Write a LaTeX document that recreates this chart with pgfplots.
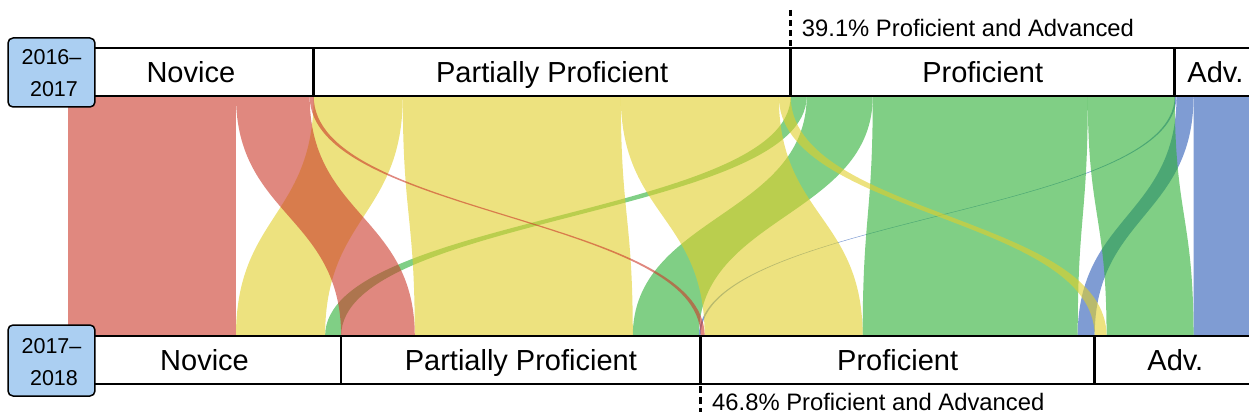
\documentclass[border=0pt]{standalone}
\usepackage{fontspec}
\setmainfont{Liberation Sans}
\usepackage{pgfplots}
\pgfplotsset{compat=1.18}
\definecolor{cnov}{RGB}{203,57,42}
\definecolor{cpp}{RGB}{225,207,42}
\definecolor{cprof}{RGB}{43,175,52}
\definecolor{cadv}{RGB}{42,90,182}
\definecolor{yearblue}{RGB}{171,207,242}
% flow: top-left, top-right, bottom-left, bottom-right (percent of students), colour
\newcommand{\flow}[5]{\fill[#5, fill opacity=0.6] (axis cs:#1,96) .. controls (axis cs:#1,216) and (axis cs:#3,216) .. (axis cs:#3,336) -- (axis cs:#4,336) .. controls (axis cs:#4,216) and (axis cs:#2,216) .. (axis cs:#2,96) -- cycle;}
\begin{document}
\begin{tikzpicture}
\begin{axis}[hide axis, scale only axis, width=1249bp, height=419bp,
  xmin=-5.724, xmax=99.41, ymin=0, ymax=419, y dir=reverse, clip=true]
% Advanced 2016-17 ->
\flow{93.16}{93.31}{53.10}{53.25}{cadv}
\flow{93.31}{94.74}{84.99}{86.42}{cadv}
\flow{94.74}{100}{94.74}{100}{cadv}
% Proficient 2016-17 ->
\flow{60.83}{62.18}{21.64}{22.99}{cprof}
\flow{62.18}{67.74}{47.54}{53.10}{cprof}
\flow{67.74}{85.84}{66.89}{84.99}{cprof}
\flow{85.84}{93.16}{87.42}{94.74}{cprof}
% Partially Proficient 2016-17 ->
\flow{20.68}{28.18}{14.14}{21.64}{cpp}
\flow{28.18}{46.53}{29.19}{47.54}{cpp}
\flow{46.53}{59.83}{53.59}{66.89}{cpp}
\flow{59.83}{60.83}{86.42}{87.42}{cpp}
% Novice 2016-17 ->
\flow{0}{14.14}{0}{14.14}{cnov}
\flow{14.14}{20.34}{22.99}{29.19}{cnov}
\flow{20.34}{20.68}{53.25}{53.59}{cnov}
% category boxes
\fill[white] (axis cs:0,48) rectangle (axis cs:100,96);
\fill[white] (axis cs:0,336) rectangle (axis cs:100,384);
\draw[line width=2.6bp] (axis cs:0,48) -- (axis cs:100,48);
\draw[line width=2.6bp] (axis cs:0,96) -- (axis cs:100,96);
\draw[line width=2.6bp] (axis cs:0,336) -- (axis cs:100,336);
\draw[line width=2.6bp] (axis cs:0,384) -- (axis cs:100,384);
\draw[line width=2.6bp] (axis cs:20.68,48) -- (axis cs:20.68,96);
\draw[line width=2.6bp] (axis cs:60.83,48) -- (axis cs:60.83,96);
\draw[line width=2.6bp] (axis cs:93.16,48) -- (axis cs:93.16,96);
\draw[line width=2.6bp] (axis cs:22.99,336) -- (axis cs:22.99,384);
\draw[line width=2.6bp] (axis cs:53.25,336) -- (axis cs:53.25,384);
\draw[line width=2.6bp] (axis cs:86.42,336) -- (axis cs:86.42,384);
% dashed markers
\draw[line width=2.6bp, dash pattern=on 6bp off 4bp] (axis cs:60.83,10) -- (axis cs:60.83,48);
\draw[line width=2.6bp, dash pattern=on 7bp off 4bp] (axis cs:53.25,386) -- (axis cs:53.25,412);
% category labels
\begin{scope}[every node/.style={anchor=base, inner sep=0pt, font=\fontsize{29bp}{34bp}\selectfont}]
\node at (axis cs:10.34,83) {Novice};
\node at (axis cs:40.755,83) {Partially Proficient};
\node at (axis cs:76.995,83) {Proficient};
\node at (axis cs:96.58,83) {Adv.};
\node at (axis cs:11.495,370) {Novice};
\node at (axis cs:38.12,370) {Partially Proficient};
\node at (axis cs:69.835,370) {Proficient};
\node at (axis cs:93.21,370) {Adv.};
\end{scope}
% annotations
\node[anchor=base west, inner sep=0pt, font=\fontsize{23.8bp}{28bp}\selectfont] at (axis cs:61.76,37) {39.1\% Proficient and Advanced};
\node[anchor=base west, inner sep=0pt, font=\fontsize{23.8bp}{28bp}\selectfont] at (axis cs:54.21,410) {46.8\% Proficient and Advanced};
% year boxes
\draw[fill=yearblue, rounded corners=5bp, line width=1.5bp] (axis cs:-5.05,38) rectangle (axis cs:2.27,107);
\draw[fill=yearblue, rounded corners=5bp, line width=1.5bp] (axis cs:-5.05,325) rectangle (axis cs:2.27,396);
\begin{scope}[every node/.style={anchor=base, inner sep=0pt, font=\fontsize{21.5bp}{25bp}\selectfont}]
\node at (axis cs:-1.39,65) {2016–};
\node at (axis cs:-1.18,97) {2017};
\node at (axis cs:-1.39,353) {2017–};
\node at (axis cs:-1.18,385) {2018};
\end{scope}
\end{axis}
\pgfresetboundingbox
\path (current axis.south west) rectangle (current axis.north east);
\end{tikzpicture}
\end{document}
